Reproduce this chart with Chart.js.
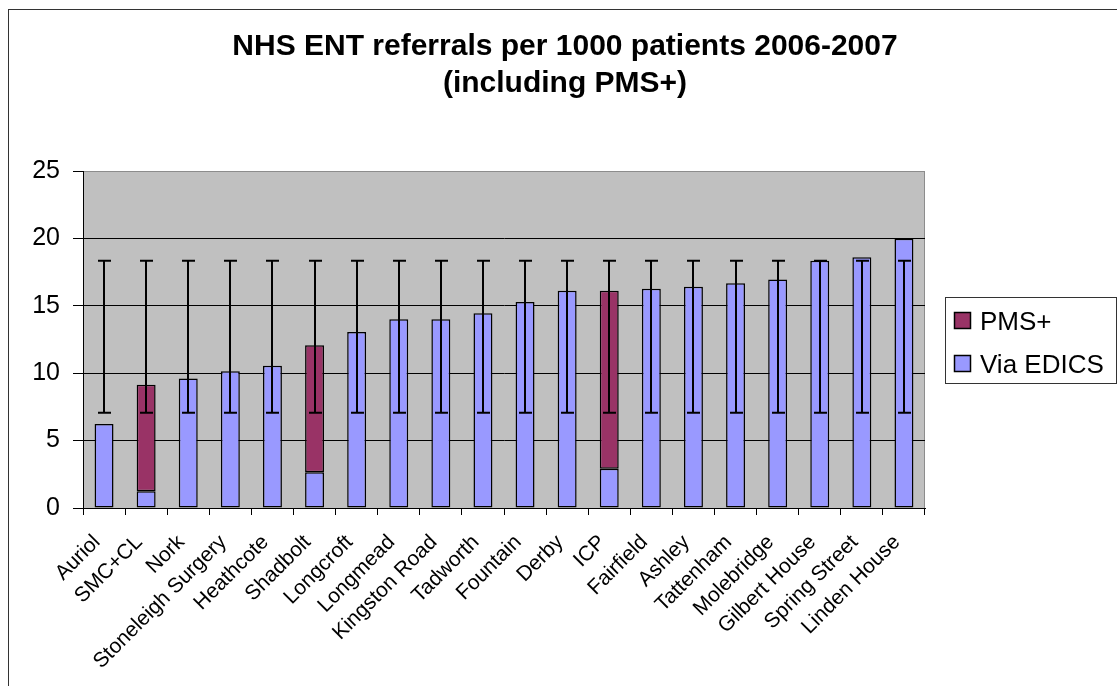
<!DOCTYPE html>
<html>
<head>
<meta charset="utf-8">
<script src="https://cdn.jsdelivr.net/npm/chart.js@4.4.1/dist/chart.umd.min.js"></script>
<style>
html, body { margin: 0; padding: 0; background: #fff; overflow: hidden; }
#frame { position: absolute; left: 8px; top: 9px; width: 1112px; height: 690px; border: 1px solid #333; }
canvas { display: block; }
</style>
</head>
<body>
<div id="frame"><canvas id="chart" width="1112" height="690"></canvas></div>
<script>
const categories = ['Auriol', 'SMC+CL', 'Nork', 'Stoneleigh Surgery', 'Heathcote', 'Shadbolt',
    'Longcroft', 'Longmead', 'Kingston Road', 'Tadworth', 'Fountain', 'Derby', 'ICP',
    'Fairfield', 'Ashley', 'Tattenham', 'Molebridge', 'Gilbert House', 'Spring Street', 'Linden House'];
const viaEdics = [6.23, 1.24, 9.6, 10.14, 10.56, 2.65, 13.06, 14.0, 14.0, 14.44, 15.28, 16.12, 2.92,
    16.27, 16.42, 16.67, 16.96, 18.35, 18.6, 19.98];
const pmsPlus = [null, 7.91, null, null, null, 9.42, null, null, null, null, null, null, 13.2,
    null, null, null, null, null, null, null];
// error bar range (same for every practice)
const errLow = [7.07, 7.07, 7.07, 7.07, 7.07, 7.07, 7.07, 7.07, 7.07, 7.07, 7.07, 7.07, 7.07,
    7.07, 7.07, 7.07, 7.07, 7.07, 7.07, 7.07];
const errHigh = [18.35, 18.35, 18.35, 18.35, 18.35, 18.35, 18.35, 18.35, 18.35, 18.35, 18.35, 18.35, 18.35,
    18.35, 18.35, 18.35, 18.35, 18.35, 18.35, 18.35];
const yMax = 25;
const yStep = 5;

const FONT = "'Liberation Sans', Arial, sans-serif";

// grey plot area like Excel
const plotBackground = {
    id: 'plotBackground',
    beforeDraw(chart) {
        const { ctx, chartArea: a } = chart;
        ctx.save();
        ctx.fillStyle = '#c0c0c0';
        ctx.fillRect(a.left, a.top, a.right - a.left, a.bottom - a.top);
        ctx.strokeStyle = '#8c8c8c';
        ctx.lineWidth = 1;
        ctx.strokeRect(a.left + 0.5, a.top + 0.5, a.right - a.left - 1, a.bottom - a.top);
        ctx.restore();
    }
};

const errorBars = {
    id: 'errorBars',
    afterDatasetsDraw(chart) {
        const { ctx, scales: { x, y } } = chart;
        ctx.save();
        ctx.strokeStyle = '#000';
        ctx.lineWidth = 2;
        categories.forEach((c, i) => {
            const cx = Math.round(x.getPixelForValue(i));
            const lo = y.getPixelForValue(errLow[i]);
            const hi = y.getPixelForValue(errHigh[i]);
            ctx.beginPath();
            ctx.moveTo(cx, lo); ctx.lineTo(cx, hi);
            ctx.moveTo(cx - 6, lo); ctx.lineTo(cx + 7, lo);
            ctx.moveTo(cx - 6, hi); ctx.lineTo(cx + 7, hi);
            ctx.stroke();
        });
        ctx.restore();
    }
};

// boxed legend to the right of the plot
const boxLegend = {
    id: 'boxLegend',
    afterDraw(chart) {
        const { ctx, chartArea: a } = chart;
        const items = chart.data.datasets.slice().reverse();
        const L = a.right + 20, W = 171, H = 86;
        const T = Math.round((a.top + a.bottom) / 2 - H / 2);
        ctx.save();
        ctx.fillStyle = '#fff';
        ctx.fillRect(L, T, W, H);
        ctx.strokeStyle = '#333';
        ctx.lineWidth = 1;
        ctx.strokeRect(L + 0.5, T + 0.5, W, H);
        ctx.font = '26px ' + FONT;
        ctx.textBaseline = 'alphabetic';
        items.forEach((ds, i) => {
            const sy = T + 15 + i * 43;
            ctx.fillStyle = ds.backgroundColor;
            ctx.fillRect(L + 9, sy, 17, 17);
            ctx.strokeStyle = '#000';
            ctx.lineWidth = 1.5;
            ctx.strokeRect(L + 9.5, sy + 0.5, 16, 16);
            ctx.fillStyle = '#000';
            ctx.fillText(ds.label, L + 35, sy + 18);
        });
        ctx.restore();
    }
};

new Chart(document.getElementById('chart'), {
    type: 'bar',
    data: {
        labels: categories,
        datasets: [
            { label: 'Via EDICS', data: viaEdics, xAxisID: 'x', yAxisID: 'y', backgroundColor: '#9999ff', borderColor: '#000', borderWidth: 1.5, borderSkipped: false },
            { label: 'PMS+', data: pmsPlus, xAxisID: 'x', yAxisID: 'y', backgroundColor: '#993366', borderColor: '#000', borderWidth: 1.5, borderSkipped: false }
        ]
    },
    options: {
        responsive: false,
        animation: false,
        layout: { padding: 0 },
        datasets: { bar: { categoryPercentage: 1, barPercentage: 0.45 } },
        plugins: {
            legend: { display: false },
            tooltip: { enabled: false },
            title: {
                display: true,
                text: ['NHS ENT referrals per 1000 patients 2006-2007', '(including PMS+)'],
                color: '#000',
                font: { family: FONT, size: 30, weight: 'bold', lineHeight: 37 / 30 },
                padding: { top: 18.6, bottom: 68.4 }
            }
        },
        scales: {
            x: {
                stacked: true,
                afterFit(scale) { scale.height = 192; },
                grid: { display: true, drawOnChartArea: false, drawTicks: true, tickLength: 7, color: '#000', offset: true },
                border: { color: '#000', width: 1 },
                ticks: { autoSkip: false, minRotation: 45, maxRotation: 45, color: '#000', padding: 15, labelOffset: -7, font: { family: FONT, size: 21 } }
            },
            y: {
                stacked: true,
                min: 0,
                max: yMax,
                afterFit(scale) { scale.width = 74; },
                grid: {
                    color: ctx => ctx.tick && ctx.tick.value === yMax ? '#8c8c8c' : '#000',
                    tickColor: '#000',
                    lineWidth: 1,
                    tickLength: 10
                },
                border: { color: '#000', width: 1 },
                ticks: { stepSize: yStep, color: '#000', padding: 13, font: { family: FONT, size: 25 } }
            },
            // empty axis that only reserves the room for the legend box
            legendSpace: {
                type: 'linear',
                position: 'right',
                afterFit(scale) { scale.width = 196; },
                grid: { display: false, drawTicks: false },
                border: { display: false },
                ticks: { display: false }
            }
        }
    },
    plugins: [plotBackground, errorBars, boxLegend]
});
</script>
</body>
</html>
